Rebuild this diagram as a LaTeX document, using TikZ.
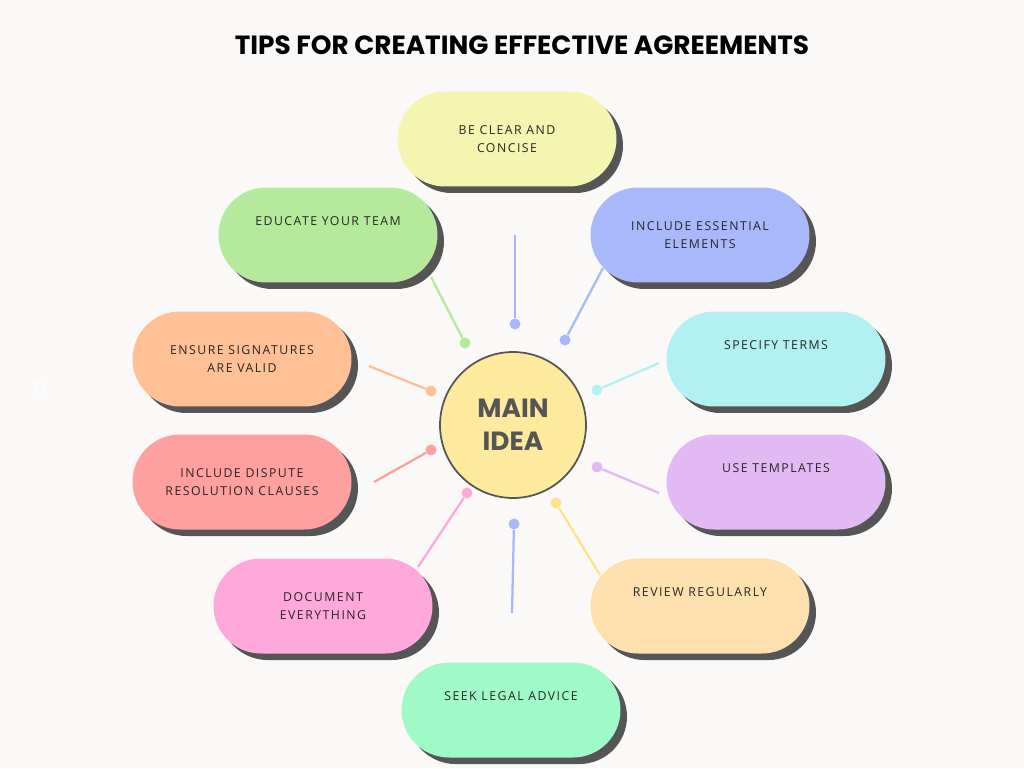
\documentclass[tikz,border=0pt]{standalone}
\usepackage{fontspec}
\setmainfont{Poppins}
\newfontfamily\tipfont[LetterSpace=12]{Open Sans}
\usetikzlibrary{shadows}
\definecolor{bgcol}{HTML}{FBF9F8}
\definecolor{shadowcol}{HTML}{555555}
\definecolor{clearcol}{HTML}{F3F5B0}
\definecolor{essentialcol}{HTML}{A9B8FB}
\definecolor{termscol}{HTML}{B2F0F1}
\definecolor{templatecol}{HTML}{E3B9F3}
\definecolor{reviewcol}{HTML}{FEDFAE}
\definecolor{legalcol}{HTML}{A0FAC8}
\definecolor{documentcol}{HTML}{FEA8DB}
\definecolor{disputecol}{HTML}{FEA09F}
\definecolor{signcol}{HTML}{FFC096}
\definecolor{educatecol}{HTML}{B5E99C}
\definecolor{maincol}{HTML}{FEEA9D}
\definecolor{yellowdot}{HTML}{FEE28A}
\tikzset{
  tip/.style={minimum width=4.38cm,minimum height=1.9cm,rounded corners=0.95cm,
    align=center,font=\tipfont\fontsize{7}{10}\selectfont,text=black!85,
    drop shadow={shadow xshift=0.13cm,shadow yshift=-0.13cm,fill=shadowcol,opacity=1}},
  link/.style={line width=1.3pt},
  dot/.style={circle,inner sep=0pt,minimum size=0.22cm}
}
\begin{document}
\begin{tikzpicture}[x=0.02cm,y=-0.02cm]
\fill[bgcol] (0,0) rectangle (1024,768);
\useasboundingbox (0,0) rectangle (1024,768);

\node (title) at (522,45) {\fontsize{15}{18}\selectfont\bfseries TIPS FOR CREATING EFFECTIVE AGREEMENTS};
\node (nine) at (40,390) [text=white,font=\fontsize{12}{14}\selectfont] {9};

%tips:
\node (clear) at (507,139) [tip,fill=clearcol] {BE CLEAR AND\\CONCISE};
\node (essential) at (700,235) [tip,fill=essentialcol] {INCLUDE ESSENTIAL\\ELEMENTS};
\node (terms) at (776,359) [tip,fill=termscol] {SPECIFY TERMS\\[0.8em]};
\node (templates) at (776,482) [tip,fill=templatecol] {USE TEMPLATES\\[0.8em]};
\node (review) at (700,606) [tip,fill=reviewcol] {REVIEW REGULARLY\\[0.8em]};
\node (legal) at (511,710) [tip,fill=legalcol] {SEEK LEGAL ADVICE\\[0.8em]};
\node (document) at (323,606) [tip,fill=documentcol] {DOCUMENT\\EVERYTHING};
\node (dispute) at (242,482) [tip,fill=disputecol] {INCLUDE DISPUTE\\RESOLUTION CLAUSES};
\node (sign) at (242,359) [tip,fill=signcol] {ENSURE SIGNATURES\\ARE VALID};
\node (educate) at (328,235) [tip,fill=educatecol] {EDUCATE YOUR TEAM\\[0.8em]};

\node (main) at (513,425) [circle,draw=shadowcol,line width=1pt,fill=maincol,minimum size=2.92cm,
  align=center,text=shadowcol,font=\fontsize{15}{19}\selectfont\bfseries] {MAIN\\IDEA};

%connectors:
\coordinate (c1) at (515,235);  \node (d1) at (515,324) [dot,fill=essentialcol] {};
\coordinate (c2) at (603,268);  \node (d2) at (565,340) [dot,fill=essentialcol] {};
\coordinate (c3) at (659,363);  \node (d3) at (597,390) [dot,fill=termscol] {};
\coordinate (c4) at (659,493);  \node (d4) at (597,467) [dot,fill=templatecol] {};
\coordinate (c5) at (600,575);  \node (d5) at (556,503) [dot,fill=yellowdot] {};
\coordinate (c6) at (512,613);  \node (d6) at (514,524) [dot,fill=essentialcol] {};
\coordinate (c7) at (418,567);  \node (d7) at (467,493) [dot,fill=documentcol] {};
\coordinate (c8) at (374,482);  \node (d8) at (431,450) [dot,fill=disputecol] {};
\coordinate (c9) at (369,366);  \node (d9) at (431,391) [dot,fill=signcol] {};
\coordinate (c10) at (431,277); \node (d10) at (465,343) [dot,fill=educatecol] {};

\draw [link,essentialcol] (c1) -- (d1);
\draw [link,essentialcol] (c2) -- (d2);
\draw [link,termscol] (c3) -- (d3);
\draw [link,templatecol] (c4) -- (d4);
\draw [link,yellowdot] (c5) -- (d5);
\draw [link,essentialcol] (c6) -- (d6);
\draw [link,documentcol] (c7) -- (d7);
\draw [link,disputecol] (c8) -- (d8);
\draw [link,signcol] (c9) -- (d9);
\draw [link,educatecol] (c10) -- (d10);
\end{tikzpicture}
\end{document}
